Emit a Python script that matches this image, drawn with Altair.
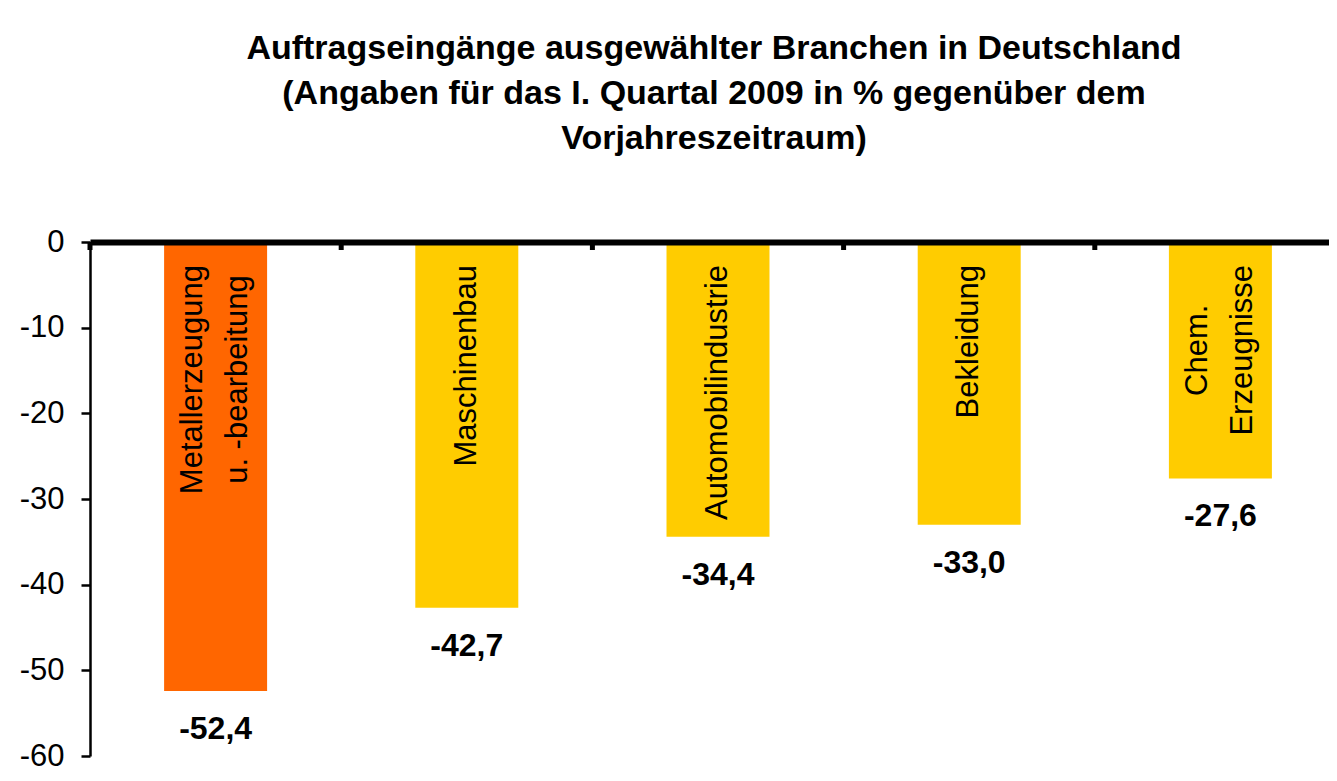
import altair as alt
import pandas as pd

# ---- data ----
CATEGORIES = [
    "Metallerzeugung\nu. -bearbeitung",
    "Maschinenbau",
    "Automobilindustrie",
    "Bekleidung",
    "Chem.\nErzeugnisse",
]
VALUES = [-52.4, -42.7, -34.4, -33.0, -27.6]
BAR_COLORS = ["#FF6600", "#FFCC00", "#FFCC00", "#FFCC00", "#FFCC00"]
Y_TICKS = [0, -10, -20, -30, -40, -50, -60]
TITLE_LINES = [
    "Auftragseingänge ausgewählter Branchen in Deutschland",
    "(Angaben für das I. Quartal 2009 in % gegenüber dem",
    "Vorjahreszeitraum)",
]

FONT = "Liberation Sans, Arial, sans-serif"
PLOT_W, PLOT_H = 1239, 514
LABEL_FS = 31
LABEL_LH = 45
LABEL_TOP = 23  # px gap between zero line and end of rotated label

# Arial / Liberation Sans advance widths (per 1000 em) to centre rotated labels
ARIAL = {'M': 833, 'e': 556, 't': 278, 'a': 556, 'l': 222, 'r': 333, 'z': 500,
         'u': 556, 'g': 556, 'n': 556, '.': 278, ' ': 278, '-': 333, 'b': 556,
         'i': 222, 's': 500, 'c': 500, 'h': 556, 'A': 667, 'o': 556, 'm': 833,
         'd': 556, 'B': 667, 'k': 500, 'C': 722, 'E': 667}


def text_width(s, size):
    return sum(ARIAL.get(ch, 556) for ch in s) * size / 1000.0


df = pd.DataFrame({
    "cat": CATEGORIES,
    "value": VALUES,
    "label": [f"{v:.1f}".replace(".", ",") for v in VALUES],
    "lines": [len(c.split("\n")) for c in CATEGORIES],
    "off": [LABEL_TOP + max(text_width(l, LABEL_FS) for l in c.split("\n")) / 2
            for c in CATEGORIES],
})

x_enc = alt.X(
    "cat:N", sort=CATEGORIES,
    scale=alt.Scale(range=[0, 1256], paddingInner=0, paddingOuter=0),
    axis=alt.Axis(orient="top", domainWidth=6, domainColor="black",
                  ticks=False, labels=False, title=None, zindex=2),
)
y_scale = alt.Scale(domain=[-60, 0], nice=False, zero=False)

base = alt.Chart(df)

bars = base.mark_bar(width=alt.RelativeBandSize(0.41)).encode(
    x=x_enc,
    y=alt.Y("value:Q", scale=y_scale,
            axis=alt.Axis(values=Y_TICKS, labelExpr="datum.value + ''",
                          domainWidth=2.5, domainColor="black",
                          tickColor="black", tickWidth=2.5, tickSize=9,
                          labelFont=FONT, labelFontSize=31, labelColor="black",
                          labelPadding=17, grid=False, title=None, zindex=2)),
    color=alt.Color("cat:N", sort=CATEGORIES,
                    scale=alt.Scale(domain=CATEGORIES, range=BAR_COLORS),
                    legend=None),
)

ticks = base.mark_rule(color="black", strokeWidth=5).encode(
    x=alt.X("cat:N", sort=CATEGORIES, bandPosition=0),
    y=alt.value(0),
    y2=alt.value(8),
)

value_labels = base.mark_text(
    font=FONT, fontSize=32, fontWeight="bold",
    align="center", baseline="middle", dy=38, color="black",
).encode(x=alt.X("cat:N", sort=CATEGORIES), y="value:Q", text="label:N")


def cat_layer(n_lines):
    # rotated text: dy moves the line block sideways on screen
    return base.transform_filter(alt.datum.lines == n_lines).transform_calculate(
        ypos=f"-datum.off * 60 / {PLOT_H}"
    ).mark_text(
        font=FONT, fontSize=LABEL_FS, angle=270, align="center",
        baseline="middle", lineBreak="\n", lineHeight=LABEL_LH, color="black",
        dy=-(n_lines - 1) * LABEL_LH / 2,
    ).encode(x=alt.X("cat:N", sort=CATEGORIES), y="ypos:Q", text="cat:N")


title = alt.Chart(pd.DataFrame({"t": ["\n".join(TITLE_LINES)]})).mark_text(
    font=FONT, fontSize=34, fontWeight="bold",
    align="center", baseline="top", lineBreak="\n", lineHeight=45,
    color="black",
).encode(x=alt.value(624), y=alt.value(-210), text="t:N")

chart = alt.layer(bars, ticks, value_labels, cat_layer(1), cat_layer(2),
                  title).properties(
    width=PLOT_W, height=PLOT_H,
    padding={"left": 82, "top": 234, "right": 0, "bottom": 15},
    autosize=alt.AutoSizeParams(type="none"),
    background="white",
).configure_view(stroke=None)

chart.save("out.html", embed_options={"renderer": "svg", "actions": False})
